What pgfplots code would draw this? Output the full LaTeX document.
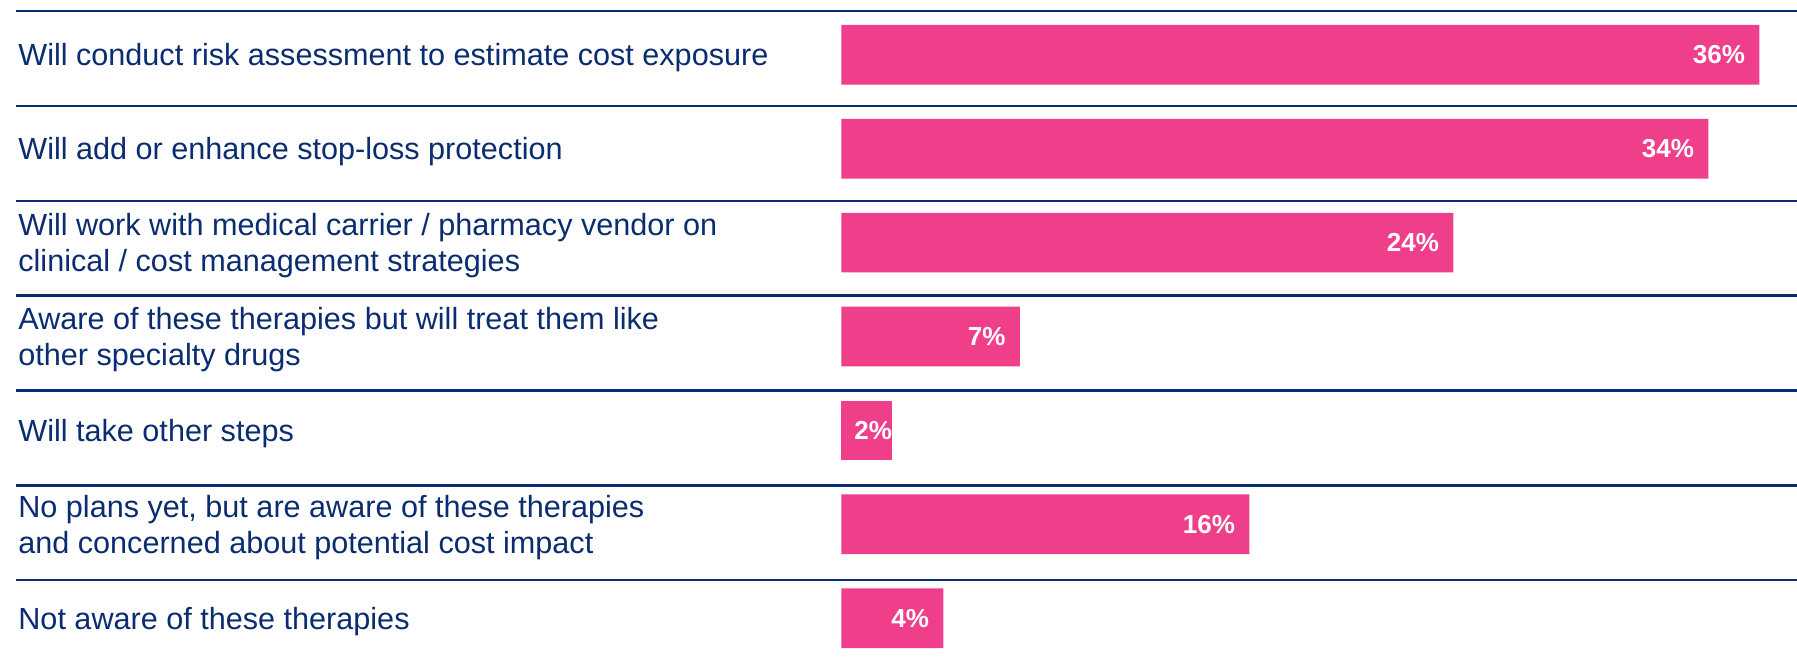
\documentclass[border=0pt]{standalone}
\usepackage{fontspec}
\setmainfont{Liberation Sans}
\usepackage{pgfplots}
\pgfplotsset{compat=1.18}
\definecolor{navy}{RGB}{10,44,112}
\definecolor{barpink}{RGB}{239,62,138}
\begin{document}
\begin{tikzpicture}
\useasboundingbox (-8pt,0pt) rectangle (890.5pt,335pt);
\begin{axis}[
  at={(0pt,0pt)}, anchor=south west,
  scale only axis, width=890.5pt, height=335pt,
  xmin=-32.365, xmax=37.478,
  ymin=-0.584, ymax=6.552, y dir=reverse,
  axis line style={draw=none},
  xtick=\empty,
  ytick={0,1,2,3,4,5,6},
  yticklabels={
    Will conduct risk assessment to estimate cost exposure,
    Will add or enhance stop-loss protection,
    {Will work with medical carrier / pharmacy vendor on\\clinical / cost management strategies},
    {Aware of these therapies but will treat them like\\other specialty drugs},
    Will take other steps,
    {No plans yet, but are aware of these therapies\\and concerned about potential cost impact},
    Not aware of these therapies},
  major tick length=0pt,
  yticklabel style={anchor=west, align=left, inner sep=0pt, xshift=1pt, yshift=-1.5pt,
    font=\fontsize{15.3pt}{17.85pt}\selectfont, text=navy},
  extra y ticks={-0.467,0.545,1.554,2.565,3.577,4.585,5.594},
  extra y tick labels={},
  extra y tick style={grid=major, major grid style={draw=navy, line width=1.2pt}},
  xbar, bar width=0.636, bar shift=0pt,
  point meta=x,
  nodes near coords={\pgfmathprintnumber{\pgfplotspointmeta}\%},
  /pgf/number format/assume math mode=true,
  every node near coord/.append style={anchor=east, inner sep=0pt, xshift=-7pt, text=white,
    font=\bfseries\fontsize{13pt}{15pt}\selectfont},
  clip=false,
]
\addplot[fill=barpink, draw=none] coordinates {(36,0) (34,1) (24,2) (7,3) (16,5) (4,6)};
\addplot[fill=barpink, draw=none,
  every node near coord/.append style={xshift=7pt}] coordinates {(2,4)};
\end{axis}
\end{tikzpicture}
\end{document}
